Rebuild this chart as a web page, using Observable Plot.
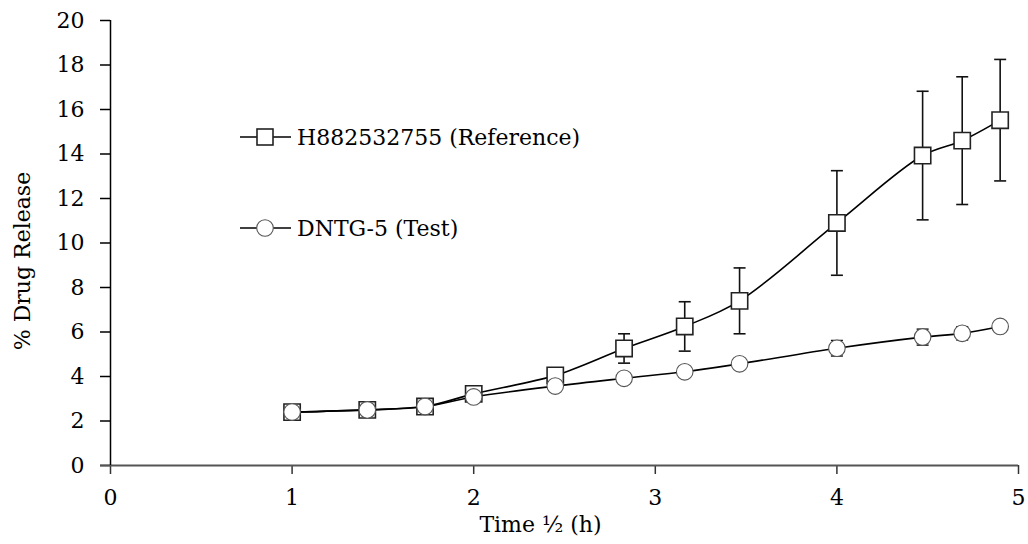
<!DOCTYPE html>
<html>
<head>
<meta charset="utf-8">
<script src="https://cdn.jsdelivr.net/npm/d3@7"></script>
<script src="https://cdn.jsdelivr.net/npm/@observablehq/plot@0.6"></script>
<style>
  html, body { margin: 0; padding: 0; background: #fff; }
  #wrap { position: relative; width: 1028px; height: 544px; }
  #legend { position: absolute; left: 240px; top: 116px; font-family: "DejaVu Serif", serif; font-size: 22px; color: #000; }
  .row { display: flex; align-items: center; height: 42px; }
  .row svg { margin-right: 6px; }
</style>
</head>
<body>
<div id="wrap">
  <div id="chart"></div>
  <div id="legend"></div>
</div>
<script>
// --- data ---
const timeSqrt = [1, 1.414, 1.732, 2, 2.449, 2.828, 3.162, 3.464, 4, 4.472, 4.690, 4.899];
const refMean  = [2.40, 2.50, 2.65, 3.22, 4.05, 5.26, 6.25, 7.40, 10.90, 13.93, 14.60, 15.52];
const refSD    = [0.05, 0.05, 0.08, 0.12, 0.25, 0.66, 1.11, 1.48, 2.35, 2.89, 2.87, 2.73];
const testMean = [2.40, 2.50, 2.65, 3.08, 3.57, 3.92, 4.21, 4.57, 5.27, 5.77, 5.94, 6.25];
const testSD   = [0.05, 0.05, 0.05, 0.05, 0.10, 0.10, 0.10, 0.10, 0.35, 0.36, 0.30, 0.10];
const seriesNames = ["H882532755 (Reference)", "DNTG-5 (Test)"];
const xTicks = [0, 1, 2, 3, 4, 5];
const yTicks = [0, 2, 4, 6, 8, 10, 12, 14, 16, 18, 20];
const xTitle = "Time ½ (h)";
const yTitle = "% Drug Release";

const ref = timeSqrt.map((t, i) => ({t, m: refMean[i], lo: refMean[i] - refSD[i], hi: refMean[i] + refSD[i]}));
const test = timeSqrt.map((t, i) => ({t, m: testMean[i], lo: testMean[i] - testSD[i], hi: testMean[i] + testSD[i]}));
const capsOf = d => d.flatMap(p => [{t: p.t, v: p.lo}, {t: p.t, v: p.hi}]);

const capSymbol = { draw(ctx, size) { const w = 6; ctx.moveTo(-w, 0); ctx.lineTo(w, 0); } };
const font = "DejaVu Serif, serif";

const chart = Plot.plot({
  width: 1028,
  height: 544,
  marginLeft: 110,
  marginRight: 10,
  marginTop: 20,
  marginBottom: 79,
  style: { fontFamily: font, fontSize: "22px", color: "#000", background: "#fff", overflow: "visible" },
  x: { domain: [0, 5] },
  y: { domain: [0, 20] },
  marks: [
    Plot.axisX({ ticks: xTicks, tickFormat: "d", tickSize: 9, tickPadding: 15, stroke: "#333", strokeWidth: 1.5, label: null, fontSize: 22 }),
    Plot.axisY({ ticks: yTicks, tickFormat: "d", tickSize: 10, tickPadding: 16, stroke: "#000", strokeWidth: 1.5, label: null, fontSize: 22 }),
    Plot.text([xTitle], { frameAnchor: "bottom", dy: 66, dx: -24, fontSize: 22 }),
    Plot.text([yTitle], { frameAnchor: "left", textAnchor: "middle", rotate: -90, dx: -88, dy: 18, fontSize: 22 }),
    Plot.ruleY([0], { x1: -0.055, x2: 5, stroke: "#555", strokeWidth: 2 }),
    Plot.ruleX([0], { y1: 0, y2: 20, stroke: "#000", strokeWidth: 1.5 }),
    // error bars
    Plot.ruleX(ref, { x: "t", y1: "lo", y2: "hi", stroke: "#111", strokeWidth: 1.6 }),
    Plot.dot(capsOf(ref), { x: "t", y: "v", symbol: capSymbol, stroke: "#111", strokeWidth: 1.6, r: 6 }),
    Plot.ruleX(test, { x: "t", y1: "lo", y2: "hi", stroke: "#111", strokeWidth: 1.4 }),
    Plot.dot(capsOf(test), { x: "t", y: "v", symbol: capSymbol, stroke: "#111", strokeWidth: 1.4, r: 6 }),
    // lines
    Plot.line(ref, { x: "t", y: "m", curve: "catmull-rom", stroke: "#000", strokeWidth: 1.6 }),
    Plot.line(test, { x: "t", y: "m", curve: "catmull-rom", stroke: "#000", strokeWidth: 1.6 }),
    // markers
    Plot.dot(ref, { x: "t", y: "m", symbol: "square", r: 9.2, fill: "#fff", stroke: "#222", strokeWidth: 1.6 }),
    Plot.dot(test, { x: "t", y: "m", symbol: "circle", r: 8.3, fill: "#fff", stroke: "#555", strokeWidth: 1.1 })
  ]
});
document.getElementById("chart").appendChild(chart);

// legend
const legendSymbols = [
  '<rect x="17" y="-8" width="16" height="16" fill="#fff" stroke="#222" stroke-width="1.6"/>',
  '<circle cx="25" cy="0" r="8.3" fill="#fff" stroke="#555" stroke-width="1.1"/>'
];
document.getElementById("legend").innerHTML = seriesNames.map((name, i) =>
  `<div class="row" style="margin-bottom:${i === 0 ? 49 : 0}px"><svg width="51" height="20" viewBox="0 -10 51 20"><line x1="0" x2="51" y1="0" y2="0" stroke="#000" stroke-width="1.6"/>${legendSymbols[i]}</svg><span>${name}</span></div>`
).join("");
</script>
</body>
</html>
